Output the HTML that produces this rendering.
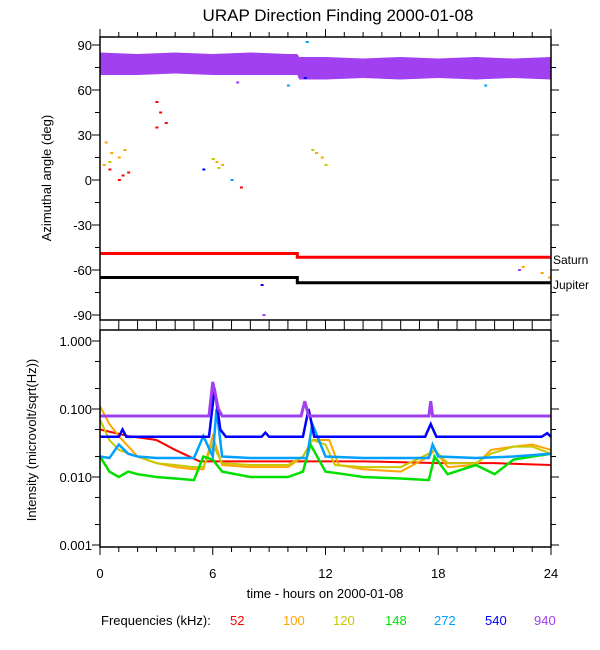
<!DOCTYPE html>
<html><head><meta charset="utf-8">
<style>
html,body{margin:0;padding:0;background:#fff;}
svg{display:block;font-family:"Liberation Sans",Arial,sans-serif;}
</style></head>
<body>
<svg id="chart" width="600" height="650" viewBox="0 0 600 650" xmlns="http://www.w3.org/2000/svg">
<text x="338" y="21" font-size="17" text-anchor="middle">URAP Direction Finding  2000-01-08</text>
<g id="topPanel"></g>
<g id="botPanel"></g>
<text transform="translate(51,178) rotate(-90)" font-size="13" text-anchor="middle">Azimuthal angle (deg)</text>
<text transform="translate(36,440) rotate(-90)" font-size="13" text-anchor="middle">Intensity (microvolt/sqrt(Hz))</text>
<text x="325" y="598" font-size="13" text-anchor="middle">time - hours on 2000-01-08</text>
<g font-size="13">
<text x="101" y="625">Frequencies (kHz):</text>
<text x="230" y="625" fill="#ff0000">52</text>
<text x="283" y="625" fill="#ffa500">100</text>
<text x="333" y="625" fill="#c8c800">120</text>
<text x="385" y="625" fill="#00e000">148</text>
<text x="434" y="625" fill="#00a0ff">272</text>
<text x="485" y="625" fill="#0000ff">540</text>
<text x="534" y="625" fill="#a040f0">940</text>
</g>
</svg>
<script>
// ---- data ----
const xTicks = [0,6,12,18,24];
const angTicks = [90,60,30,0,-30,-60,-90];
const intTicks = [1.0,0.1,0.01,0.001];
const intTickLabels = ["1.000","0.100","0.010","0.001"];
const bandT = [0,2,4,6,8,10,10.5,10.6,12,14,16,18,20,22,24];
const bandHi = [85,84,85,84,85,84,84,82,82,81,82,81,82,81,82];
const bandLo = [70,70,71,70,70,70,70,67,67,68,67,68,67,68,67];
const saturnT = [0,10.5,10.5,24];
const saturnV = [-49,-49,-51.5,-51.5];
const jupiterT = [0,10.5,10.5,24];
const jupiterV = [-65,-65,-68.5,-68.5];
const ptT = [3,3.2,3,3.5,0.5,1.2,1.5,1,7.5, 0.3,0.6,1,0.2,1.3,6.2,6.5,11.5,11.8,22.5,23.5,23.9, 6,6.3,11.3,12,0.5, 8.6,10.9,5.5, 7,10,11,20.5, 8.7,22.3,7.3];
const ptV = [52,45,35,38,7,3,5,0,-5, 25,18,15,10,20,12,10,18,15,-58,-62,-65, 14,8,20,10,12, -70,68,7, 0,63,92,63, -90,-60,65];
const ptC = ["#f00","#f00","#f00","#f00","#f00","#f00","#f00","#f00","#f00",
 "#ffa500","#ffa500","#ffa500","#ffa500","#ffa500","#ffa500","#ffa500","#ffa500","#ffa500","#ffa500","#ffa500","#ffa500",
 "#c8c800","#c8c800","#c8c800","#c8c800","#c8c800","#00f","#00f","#00f","#00a0ff","#00a0ff","#00a0ff","#00a0ff","#a040f0","#a040f0","#a040f0"];
const s52T = [0,1.5,3,4,5.3,8,10.5,14,18,21,24];
const s52V = [0.05,0.04,0.035,0.025,0.017,0.017,0.017,0.017,0.016,0.016,0.015];
const s100T = [0,0.5,1,2,3,4,5,5.5,6,6.5,8,10,10.8,11.3,12.2,12.7,14,16,17.5,17.8,18.5,20,20.8,22,23,24];
const s100V = [0.11,0.06,0.04,0.02,0.016,0.014,0.013,0.013,0.04,0.015,0.014,0.014,0.02,0.035,0.035,0.015,0.013,0.012,0.02,0.025,0.014,0.015,0.025,0.028,0.03,0.025];
const s120T = [0,0.5,1,2,3,4,5,5.5,6,6.5,8,10,10.8,11.3,12,12.5,14,16,17.5,17.8,18.5,20,20.8,22,23,24];
const s120V = [0.07,0.035,0.025,0.02,0.016,0.015,0.014,0.014,0.03,0.016,0.015,0.015,0.02,0.035,0.03,0.015,0.014,0.014,0.022,0.025,0.016,0.016,0.022,0.028,0.028,0.022];
const s148T = [0,0.5,1,1.5,2,3,4,5,5.5,6,6.5,8,10,10.8,11.2,12,13,14,16,17.5,17.8,18.5,20,21,22,23,24];
const s148V = [0.02,0.012,0.01,0.012,0.011,0.01,0.0095,0.009,0.02,0.018,0.012,0.01,0.01,0.012,0.03,0.012,0.011,0.01,0.0095,0.009,0.02,0.011,0.015,0.011,0.018,0.02,0.022];
const s272T = [0,0.5,1,1.5,2,3,5,5.5,6,6.2,6.5,8,10,11,11.3,12,14,17.5,17.7,18,20,22,24];
const s272V = [0.02,0.019,0.03,0.022,0.02,0.019,0.019,0.04,0.02,0.1,0.02,0.019,0.019,0.019,0.06,0.02,0.019,0.019,0.03,0.02,0.019,0.02,0.022];
const s540T = [0,1,1.2,1.4,5.8,6.1,6.4,6.7,8.6,8.8,9,10.8,11.1,11.4,17.3,17.6,17.9,23.5,23.8,24];
const s540V = [0.039,0.039,0.05,0.039,0.039,0.2,0.05,0.039,0.039,0.045,0.039,0.039,0.1,0.039,0.039,0.06,0.039,0.039,0.044,0.039];
const s940T = [0,5.8,6.0,6.3,6.5,10.7,10.9,11.1,17.5,17.6,17.7,24];
const s940V = [0.079,0.079,0.25,0.1,0.079,0.079,0.13,0.079,0.079,0.13,0.079,0.079];

// ---- scales ----
const X0=100, X1=551;
const xs = h => X0 + (X1-X0)*h/24;
const ya = d => 180 - 1.5*d;
const TT=37, TB=320;
const yi = v => 409 - 68*(Math.log10(v)+1);
const BT=330, BB=547;
const NS="http://www.w3.org/2000/svg";
function el(parent, tag, attrs){const e=document.createElementNS(NS,tag);for(const k in attrs)e.setAttribute(k,attrs[k]);parent.appendChild(e);return e;}
const topG=document.getElementById('topPanel'), botG=document.getElementById('botPanel');

// purple band
let pts=[];
bandT.forEach((t,i)=>pts.push(xs(t)+','+ya(bandHi[i])));
for(let i=bandT.length-1;i>=0;i--)pts.push(xs(bandT[i])+','+ya(bandLo[i]));
const band=el(topG,'polygon',{points:pts.join(' '),fill:'#a040f0'});



function line(parent,T,V,fy,color,w,name){
 const p=el(parent,'polyline',{points:T.map((t,i)=>xs(t)+','+fy(V[i])).join(' '),fill:'none',stroke:color,'stroke-width':w});
 
 
}
line(topG,saturnT,saturnV,ya,'#ff0000',3,'saturn-line');
line(topG,jupiterT,jupiterV,ya,'#000',3,'jupiter-line');
ptT.forEach((t,i)=>{
 const r=el(topG,'rect',{x:xs(t)-1,y:ya(ptV[i])-1,width:3,height:2,fill:ptC[i]});
 
 
});
const sl=el(topG,'text',{x:553,y:264,'font-size':12});sl.textContent='Saturn';


const jl=el(topG,'text',{x:553,y:289,'font-size':12});jl.textContent='Jupiter';



line(botG,s52T,s52V,yi,'#ff0000',2,'series-52khz');
line(botG,s100T,s100V,yi,'#ffa500',2,'series-100khz');
line(botG,s120T,s120V,yi,'#c8c800',2,'series-120khz');
line(botG,s148T,s148V,yi,'#00e000',2.5,'series-148khz');
line(botG,s272T,s272V,yi,'#00a0ff',2.5,'series-272khz');
line(botG,s540T,s540V,yi,'#0000ff',2.5,'series-540khz');
line(botG,s940T,s940V,yi,'#a040f0',3,'series-940khz');

// frames & ticks
function frame(parent,yt,yb,name){
 const r=el(parent,'rect',{x:X0,y:yt,width:X1-X0,height:yb-yt,fill:'none',stroke:'#000','stroke-width':1.5});
 
 
 for(let h=0;h<=24;h++){
  const L=(h%6==0)?8:5, x=xs(h);
  el(parent,'line',{x1:x,y1:yb,x2:x,y2:yb+L,stroke:'#000','stroke-width':1});
  el(parent,'line',{x1:x,y1:yt,x2:x,y2:yt-L,stroke:'#000','stroke-width':1});
 }
}
frame(topG,TT,TB,'top-plot-frame');
frame(botG,BT,BB,'bottom-plot-frame');
for(let d=-90;d<=90;d+=15){
 const y=ya(d),L=(d%30==0)?8:5;
 el(topG,'line',{x1:X0-L,y1:y,x2:X0,y2:y,stroke:'#000'});
 el(topG,'line',{x1:X1,y1:y,x2:X1+L,y2:y,stroke:'#000'});
}
angTicks.forEach(d=>{
 const t=el(topG,'text',{x:92,y:ya(d)+5,'font-size':13,'text-anchor':'end'});t.textContent=String(d);
 
 
});
[1,0.5,0.2,0.1,0.05,0.02,0.01,0.005,0.002,0.001].forEach(v=>{
 const y=yi(v),L=([1,0.1,0.01,0.001].includes(v))?8:5;
 el(botG,'line',{x1:X0-L,y1:y,x2:X0,y2:y,stroke:'#000'});
 el(botG,'line',{x1:X1,y1:y,x2:X1+L,y2:y,stroke:'#000'});
});
intTicks.forEach((v,i)=>{
 const t=el(botG,'text',{x:92,y:yi(v)+5,'font-size':13,'text-anchor':'end'});t.textContent=intTickLabels[i];
 
 
});
xTicks.forEach(h=>{
 const t=el(botG,'text',{x:xs(h),y:578,'font-size':13,'text-anchor':'middle'});t.textContent=String(h);
 
 
});
</script>
</body></html>
